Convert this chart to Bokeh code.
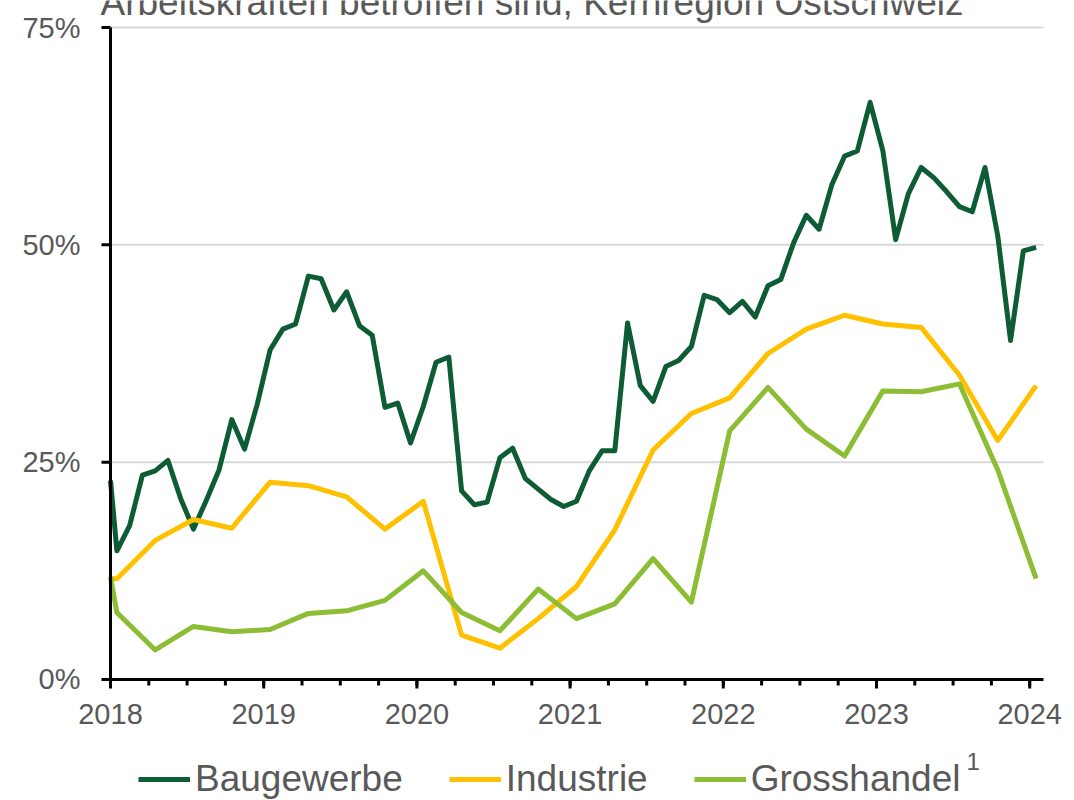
from bokeh.plotting import figure
from bokeh.models import Legend, LegendItem, Label, Range1d
from bokeh.embed import file_html
from bokeh.resources import INLINE
from bokeh.core.properties import value

# ---------------- data ----------------
year_ticks = [2018, 2019, 2020, 2021, 2022, 2023, 2024]
year_labels = ["2018", "2019", "2020", "2021", "2022", "2023", "2024"]
quarter_ticks = [2018 + i / 4 for i in range(25)]
y_ticks = [0, 25, 50, 75]
y_labels = ["0%", "25%", "50%", "75%"]
grid_levels = [25, 50, 75]

title_text = "Arbeitskräften betroffen sind, Kernregion Ostschweiz"
series_names = ["Baugewerbe", "Industrie", "Grosshandel"]
footnote_mark = "1"

# first value at start of 2018, then monthly Jan 2018 .. Jan 2024
bau_values = [22.9,
              14.8, 17.7, 23.5, 24.0, 25.2, 20.8, 17.3, 20.6, 24.1, 29.9, 26.5, 31.7,
              37.9, 40.3, 40.9, 46.4, 46.1, 42.5, 44.6, 40.7, 39.6, 31.3, 31.8, 27.2,
              31.4, 36.5, 37.1, 21.7, 20.1, 20.4, 25.5, 26.6, 23.1, 21.9, 20.7, 19.9,
              20.5, 24.0, 26.3, 26.3, 41.0, 33.8, 32.0, 36.0, 36.7, 38.3, 44.2, 43.7,
              42.2, 43.5, 41.7, 45.3, 46.0, 50.2, 53.4, 51.8, 56.9, 60.2, 60.8, 66.4,
              60.8, 50.6, 55.9, 58.9, 57.7, 56.1, 54.4, 53.8, 58.9, 51.0, 39.0, 49.3,
              49.7]
# first value at start of 2018, then quarterly Jan 2018 .. Jan 2024
ind_values = [11.6, 11.6, 16.0, 18.4, 17.4, 22.7, 22.3, 21.0, 17.3, 20.5, 5.1, 3.6, 7.0,
              10.7, 17.2, 26.4, 30.6, 32.4, 37.5, 40.3, 41.9, 40.9, 40.5, 35.0, 27.5, 33.8]
gh_values = [11.8, 7.7, 3.4, 6.1, 5.5, 5.75, 7.6, 7.9, 9.1, 12.5, 7.7, 5.6, 10.4,
             7.0, 8.7, 13.9, 8.9, 28.6, 33.6, 28.8, 25.7, 33.2, 33.1, 34.0, 24.1, 11.6]

bau_x = [2018.0] + [2018 + (i + 0.5) / 12 for i in range(len(bau_values) - 1)]
q_x = [2018.0] + [2018 + (3 * i + 0.5) / 12 for i in range(len(ind_values) - 1)]

x_start, x_end = 2018.0, 2024.09      # extent of the drawn axis
y_start, y_end = 0, 75

colors = ["#0e5c36", "#ffc000", "#8cbd35"]
grey = "#595959"
font = "Liberation Sans"

# pixel -> data conversion for offsets (style only)
PX_X = 153.2   # px per year
PX_Y = 8.693   # px per percentage point

# ---------------- figure (frame covers the whole canvas) ----------------
W, H = 1066, 800
p = figure(width=W, height=H, output_backend="svg", toolbar_location=None,
           x_range=Range1d(x_start - 110 / PX_X, x_start + (W - 110) / PX_X),
           y_range=Range1d(y_start - (H - 679) / PX_Y, y_end + 27 / PX_Y),
           x_axis_location=None, y_axis_location=None,
           min_border_left=0, min_border_right=0, min_border_top=0,
           min_border_bottom=0)
p.outline_line_color = None
p.background_fill_color = "white"
p.border_fill_color = "white"
p.xgrid.visible = False
p.ygrid.visible = False

# horizontal gridlines
p.segment(x0=[x_start] * len(grid_levels), y0=grid_levels,
          x1=[x_end] * len(grid_levels), y1=grid_levels,
          line_color="#d9d9d9", line_width=2)

# data lines
r1 = p.line(bau_x, bau_values, line_color=colors[0], line_width=5, line_join="round")
r2 = p.line(q_x, ind_values, line_color=colors[1], line_width=5, line_join="round")
r3 = p.line(q_x, gh_values, line_color=colors[2], line_width=5, line_join="round")

# axis lines
p.segment(x0=[x_start], y0=[y_start], x1=[x_end], y1=[y_start],
          line_color="black", line_width=3)
p.segment(x0=[x_start], y0=[y_start], x1=[x_start], y1=[y_end],
          line_color="black", line_width=3)

# x ticks (quarters short, years long) and labels
p.segment(x0=quarter_ticks, y0=[y_start] * len(quarter_ticks),
          x1=quarter_ticks, y1=[y_start - 6 / PX_Y] * len(quarter_ticks),
          line_color="black", line_width=3)
p.segment(x0=year_ticks, y0=[y_start] * len(year_ticks),
          x1=year_ticks, y1=[y_start - 9 / PX_Y] * len(year_ticks),
          line_color="black", line_width=3)
p.text(x=year_ticks, y=[y_start - 25 / PX_Y] * len(year_ticks), text=year_labels,
       text_font=value(font), text_font_size="29px", text_color=grey,
       text_align="center", text_baseline="top")

# y ticks and labels
p.segment(x0=[x_start - 9 / PX_X] * len(y_ticks), y0=y_ticks,
          x1=[x_start] * len(y_ticks), y1=y_ticks,
          line_color="black", line_width=3)
p.text(x=[x_start - 30 / PX_X] * len(y_ticks), y=y_ticks, text=y_labels,
       text_font=value(font), text_font_size="29px", text_color=grey,
       text_align="right", text_baseline="middle")

legend = Legend(items=[LegendItem(label=series_names[0], renderers=[r1]),
                       LegendItem(label=series_names[1], renderers=[r2]),
                       LegendItem(label=series_names[2], renderers=[r3])],
                orientation="horizontal", location=(138, 0),
                label_text_font=font, label_text_font_size="37px",
                label_text_color=grey, glyph_width=52, glyph_height=20,
                label_standoff=5, spacing=46, padding=0, margin=0,
                border_line_color=None, background_fill_alpha=0)
p.add_layout(legend, "center")

p.add_layout(Label(x=x_start - 10 / PX_X, y=y_end + 25 / PX_Y, text=title_text,
                   text_font=font, text_font_size="37px", text_color=grey,
                   text_baseline="middle", text_align="left"))
p.add_layout(Label(x=x_start + 856 / PX_X, y=y_start - 82 / PX_Y, text=footnote_mark,
                   text_font=font, text_font_size="24px", text_color=grey,
                   text_baseline="middle", text_align="left"))

open("out.html", "w").write(file_html(p, INLINE))
